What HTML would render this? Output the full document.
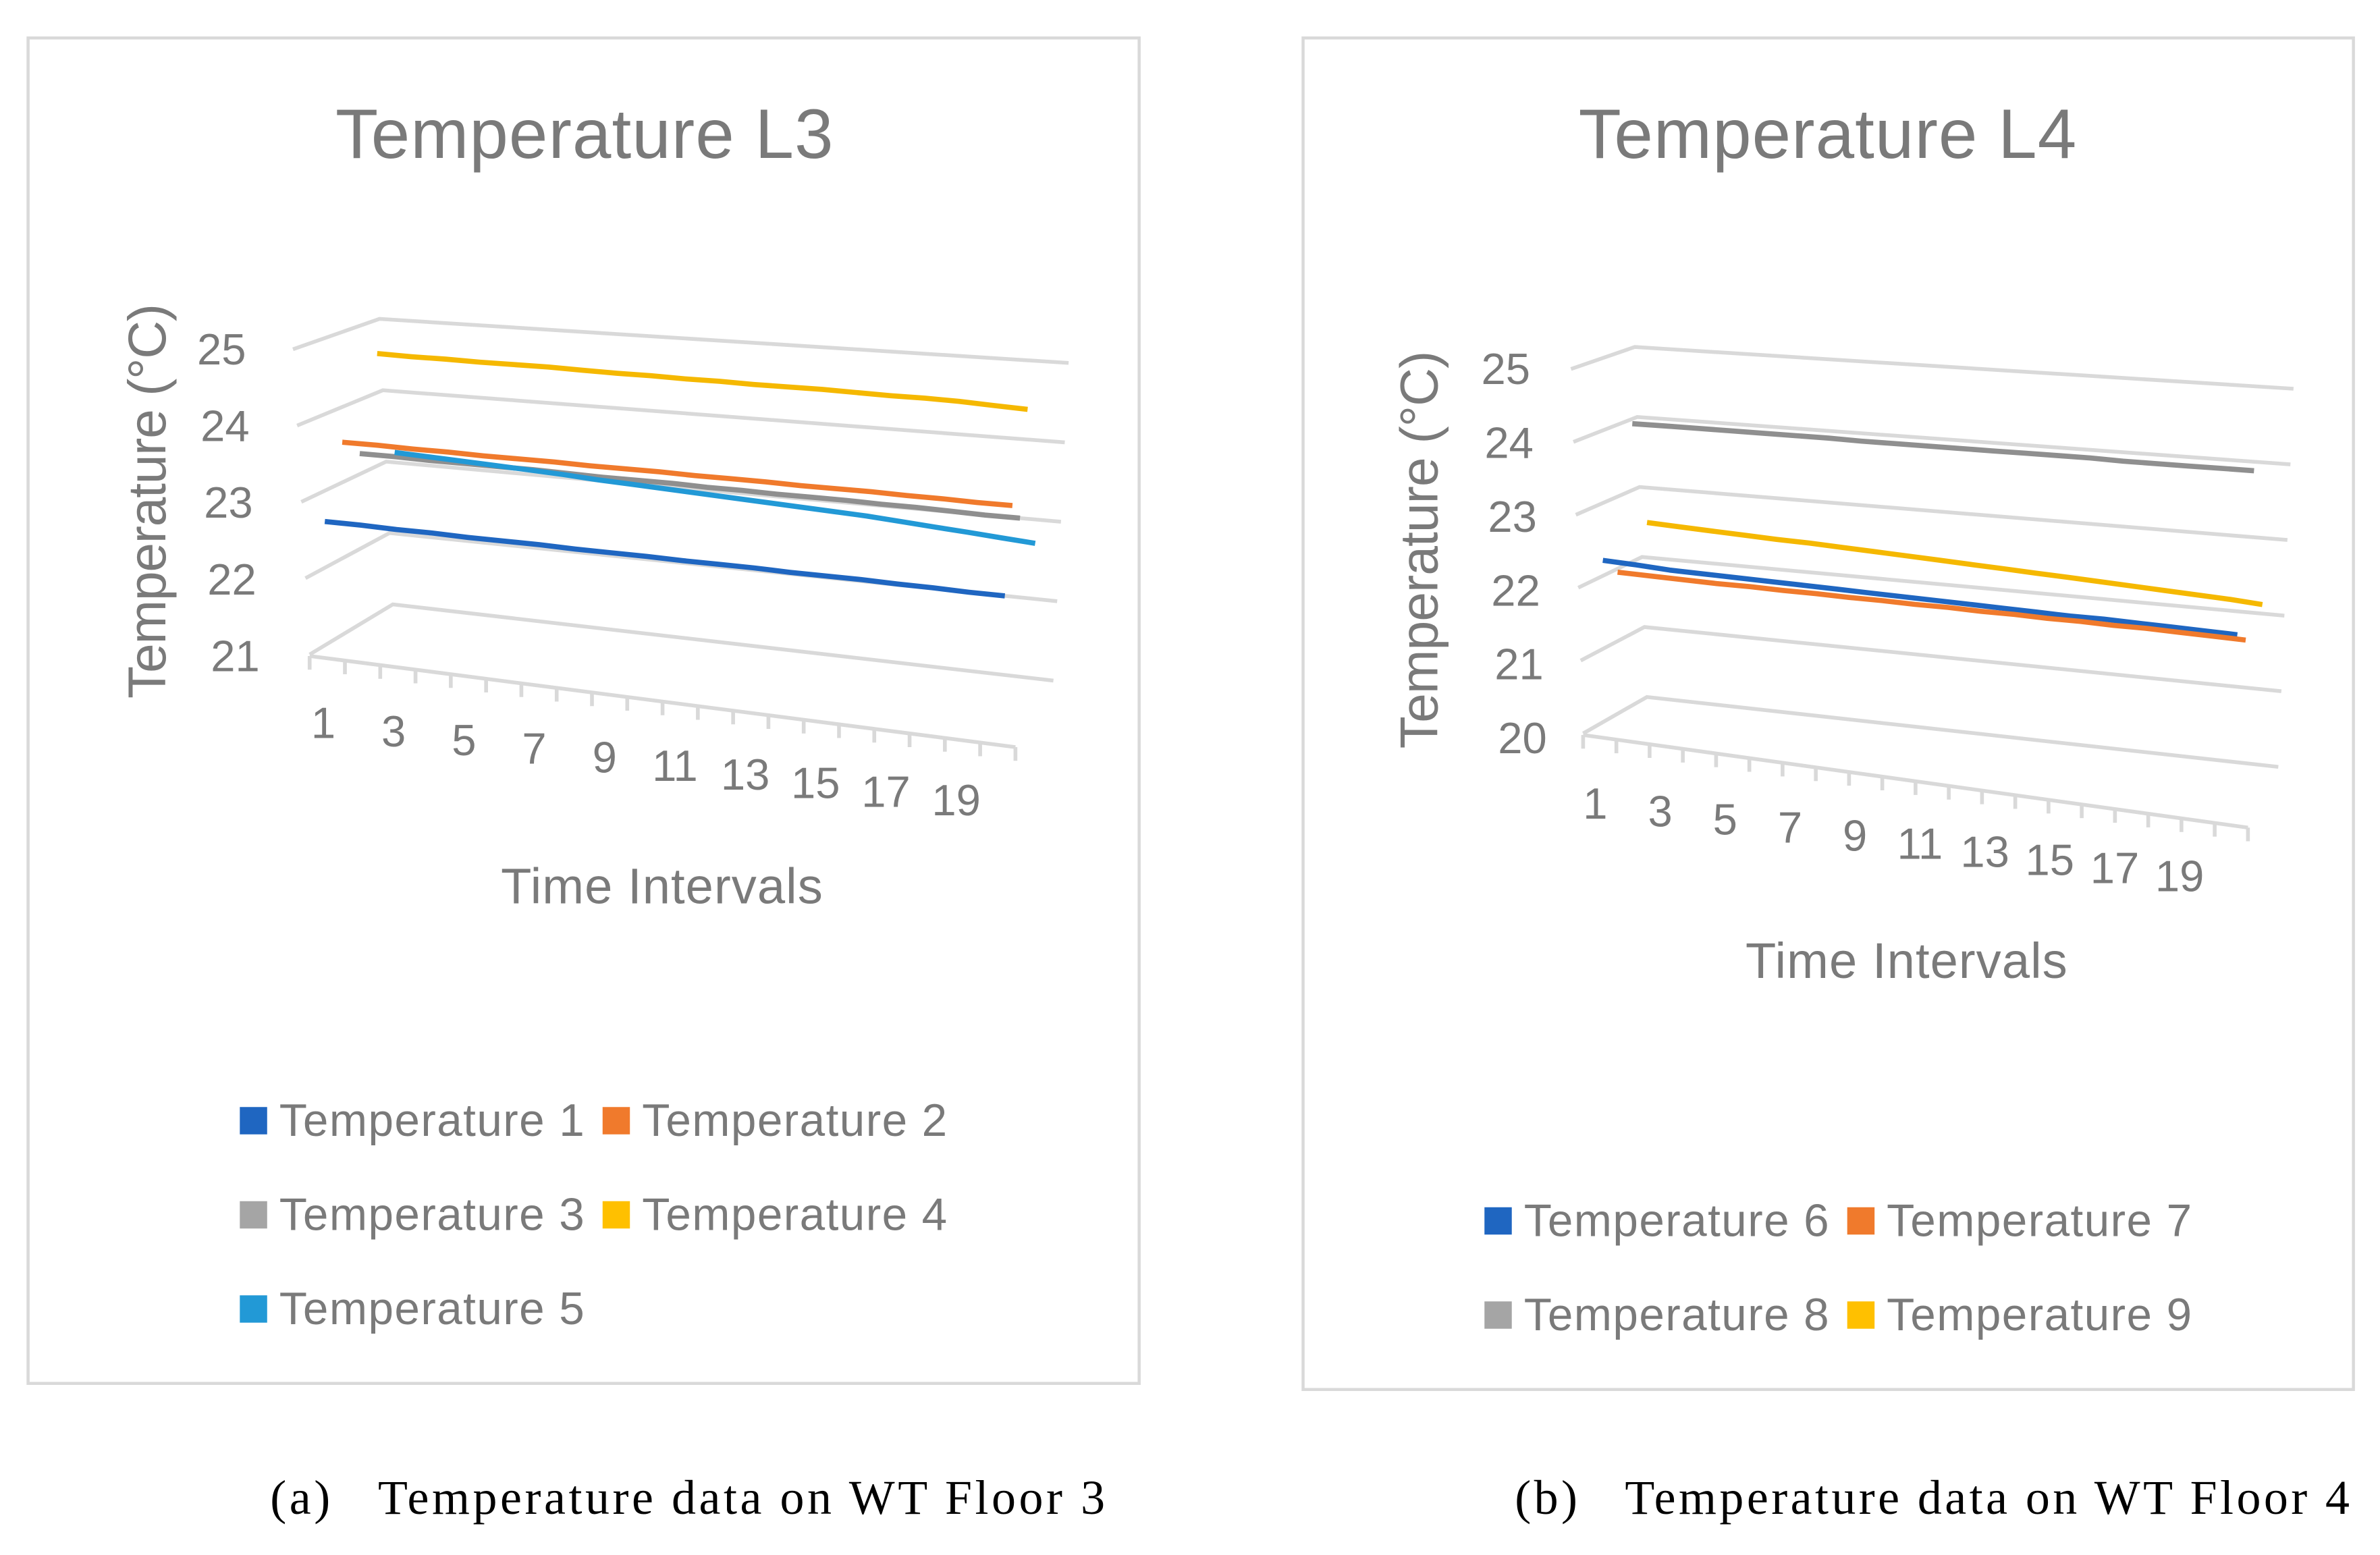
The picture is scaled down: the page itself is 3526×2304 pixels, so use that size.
<!DOCTYPE html>
<html><head><meta charset="utf-8"><style>
html,body{margin:0;padding:0;background:#fff}
svg{display:block}
text{font-family:"Liberation Sans",sans-serif;fill:#7a7a7a}
</style></head><body>
<svg id="chart" width="3526" height="2304" viewBox="0 0 1568 1024" preserveAspectRatio="none" xmlns="http://www.w3.org/2000/svg">
<rect x="0" y="0" width="1568" height="1024" fill="#fff"/>
<rect x="18.5" y="25" width="732" height="886" fill="none" stroke="#d9d9d9" stroke-width="2"/>
<rect x="858.5" y="25" width="692" height="890" fill="none" stroke="#d9d9d9" stroke-width="2"/>
<text x="385" y="104" font-size="46" text-anchor="middle" textLength="328">Temperature L3</text>
<text x="1204" y="104" font-size="46" text-anchor="middle" textLength="328">Temperature L4</text>
<text transform="translate(109,330) rotate(-90)" font-size="35" text-anchor="middle" textLength="260">Temperature (°C)</text>
<text transform="translate(947,362) rotate(-90)" font-size="35" text-anchor="middle" textLength="262">Temperature (°C)</text>
<text x="436" y="595" font-size="33" text-anchor="middle" textLength="212">Time Intervals</text>
<text x="1256" y="644" font-size="33" text-anchor="middle" textLength="212">Time Intervals</text>
<g font-size="30">
<rect x="158" y="729" width="18" height="18" fill="#1f66c1"/>
<text x="184" y="748" textLength="201">Temperature 1</text>
<rect x="397" y="729" width="18" height="18" fill="#f07a2c"/>
<text x="423" y="748" textLength="201">Temperature 2</text>
<rect x="158" y="791" width="18" height="18" fill="#a5a5a5"/>
<text x="184" y="810" textLength="201">Temperature 3</text>
<rect x="397" y="791" width="18" height="18" fill="#ffc000"/>
<text x="423" y="810" textLength="201">Temperature 4</text>
<rect x="158" y="853" width="18" height="18" fill="#2299d6"/>
<text x="184" y="872" textLength="201">Temperature 5</text>
</g>
<g font-size="30">
<rect x="978" y="795" width="18" height="18" fill="#1f66c1"/>
<text x="1004" y="814" textLength="201">Temperature 6</text>
<rect x="1217" y="795" width="18" height="18" fill="#f07a2c"/>
<text x="1243" y="814" textLength="201">Temperature 7</text>
<rect x="978" y="857" width="18" height="18" fill="#a5a5a5"/>
<text x="1004" y="876" textLength="201">Temperature 8</text>
<rect x="1217" y="857" width="18" height="18" fill="#ffc000"/>
<text x="1243" y="876" textLength="201">Temperature 9</text>
</g>
<text x="178" y="997" font-size="32" textLength="550" style="font-family:'Liberation Serif',serif;fill:#000" xml:space="preserve">(a)   Temperature data on WT Floor 3</text>
<text x="998" y="997" font-size="32" textLength="550" style="font-family:'Liberation Serif',serif;fill:#000" xml:space="preserve">(b)   Temperature data on WT Floor 4</text>
<g id="plots"></g>
</svg>
<script>
const categories = ["1","2","3","4","5","6","7","8","9","10","11","12","13","14","15","16","17","18","19","20"];
const tickLabels = ["1","3","5","7","9","11","13","15","17","19"];
const yTicksL3 = [21,22,23,24,25];
const yTicksL4 = [20,21,22,23,24,25];
const t1 = [22.07,22.07,22.06,22.06,22.05,22.05,22.05,22.04,22.04,22.04,22.03,22.03,22.03,22.02,22.02,22.02,22.01,22.01,22.00,22.00];
const t2 = [23.22,23.22,23.21,23.21,23.2,23.2,23.2,23.19,23.19,23.19,23.18,23.18,23.18,23.17,23.17,23.17,23.16,23.16,23.15,23.15];
const t3 = [23.08,23.08,23.07,23.07,23.07,23.07,23.06,23.05,23.05,23.05,23.04,23.04,23.03,23.03,23.03,23.02,23.02,23.01,23.0,23.0];
const t4 = [24.51,24.5,24.5,24.49,24.49,24.49,24.48,24.47,24.47,24.46,24.46,24.45,24.45,24.45,24.44,24.43,24.43,24.42,24.4,24.38];
const t5 = [23.14,23.12,23.1,23.08,23.06,23.04,23.01,22.99,22.97,22.95,22.93,22.91,22.89,22.87,22.85,22.82,22.79,22.76,22.73,22.7];
const t6 = [21.9,21.88,21.85,21.84,21.83,21.82,21.81,21.8,21.79,21.78,21.77,21.76,21.75,21.74,21.73,21.73,21.72,21.71,21.7,21.69];
const t7 = [21.75,21.74,21.73,21.72,21.72,21.71,21.71,21.7,21.7,21.69,21.69,21.68,21.68,21.67,21.67,21.66,21.66,21.65,21.64,21.63];
const t8 = [23.9,23.9,23.9,23.9,23.9,23.9,23.9,23.89,23.89,23.89,23.89,23.89,23.89,23.89,23.89,23.88,23.88,23.88,23.88,23.88];
const t9 = [22.5,22.48,22.46,22.44,22.42,22.41,22.39,22.37,22.35,22.33,22.31,22.29,22.27,22.25,22.23,22.21,22.19,22.17,22.15,22.12];
const seriesL3 = [t1,t2,t3,t4,t5];
const seriesL4 = [t6,t7,t8,t9];
const colorsL3 = ["#1f66c1","#f07a2c","#8f8f8f","#f5b800","#2299d6"];
const colorsL4 = ["#1f66c1","#f07a2c","#8f8f8f","#f5b800"];

const NS="http://www.w3.org/2000/svg";
const plots=document.getElementById('plots');
function mk(tag,attrs,parent){const e=document.createElementNS(NS,tag);for(const k in attrs)e.setAttribute(k,attrs[k]);(parent||plots).appendChild(e);return e;}

const P3={top:25,bot:21,L:[250,210,2.2,47],R:[704,239,-2.5,52.3],F:[193,230,204,431],
  front:[204,432,669,492],x0:214,dx0:11.5,x1:662,dx1:5,lab:[213,476,630,527],ylab:[146,230,155,432],name:'l3'};
const P4={top:25,bot:20,L:[1077,228.5,1.6,46.1],R:[1511,256,-2,49.8],F:[1035,243,1043,483],
  front:[1043,484,1481,545],x0:1056,dx0:9.7,x1:1474,dx1:5.5,lab:[1051,529,1436,577],ylab:[992,243,1003,486],name:'l4'};

function leftPt(P,v){const d=P.top-v;return [P.L[0]+d*P.L[2],P.L[1]+d*P.L[3]];}
function rightPt(P,v){const d=P.top-v;return [P.R[0]+d*P.R[2],P.R[1]+d*P.R[3]];}
function frontPt(P,v){const f=(P.top-v)/(P.top-P.bot);return [P.F[0]+(P.F[2]-P.F[0])*f,P.F[1]+(P.F[3]-P.F[1])*f];}
function yScale(P,v,x){const l=leftPt(P,v),r=rightPt(P,v);return l[1]+(x-l[0])*(r[1]-l[1])/(r[0]-l[0]);}
function xScale(P,i,depth){const a=P.x0+depth*P.dx0,b=P.x1+depth*P.dx1;return a+(b-a)*i/(categories.length-1);}

function draw(P,yt,series,colors){
  const g=mk('g',{});
  
  
  yt.forEach((v,k)=>{
    const f=frontPt(P,v),l=leftPt(P,v),r=rightPt(P,v);
    const gl=mk('polyline',{points:`${f[0]},${f[1]} ${l[0]},${l[1]} ${r[0]},${r[1]}`,fill:'none',stroke:'#d9d9d9','stroke-width':2.5},g);
    
    
    const fr=(P.top-v)/(P.top-P.bot);
    const t=mk('text',{x:P.ylab[0]+(P.ylab[2]-P.ylab[0])*fr,y:P.ylab[1]+(P.ylab[3]-P.ylab[1])*fr+10,'font-size':29,'text-anchor':'middle'},g);
    t.textContent=v;
    
    
  });
  const fr=P.front;
  const ax=mk('line',{x1:fr[0],y1:fr[1],x2:fr[2],y2:fr[3],stroke:'#d9d9d9','stroke-width':2.5},g);
  
  
  const n=categories.length;
  for(let i=0;i<=n;i++){
    const x=fr[0]+(fr[2]-fr[0])*i/n,y=fr[1]+(fr[3]-fr[1])*i/n;
    const tk=mk('line',{x1:x,y1:y,x2:x,y2:y+9,stroke:'#d9d9d9','stroke-width':2.5},g);
    
    
  }
  tickLabels.forEach((lb,k)=>{
    const f=k/(tickLabels.length-1);
    const t=mk('text',{x:P.lab[0]+(P.lab[2]-P.lab[0])*f,y:P.lab[1]+(P.lab[3]-P.lab[1])*f+10,'font-size':29,'text-anchor':'middle'},g);
    t.textContent=lb;
    
    
  });
  series.forEach((s,d)=>{
    const pts=s.map((v,i)=>{const x=xScale(P,i,d);return x.toFixed(1)+','+yScale(P,v,x).toFixed(1);}).join(' ');
    const pl=mk('polyline',{points:pts,fill:'none',stroke:colors[d],'stroke-width':3.4,'stroke-linejoin':'round'},g);
    
    
  });
}
draw(P3,yTicksL3,seriesL3,colorsL3);
draw(P4,yTicksL4,seriesL4,colorsL4);
</script>
</body></html>
